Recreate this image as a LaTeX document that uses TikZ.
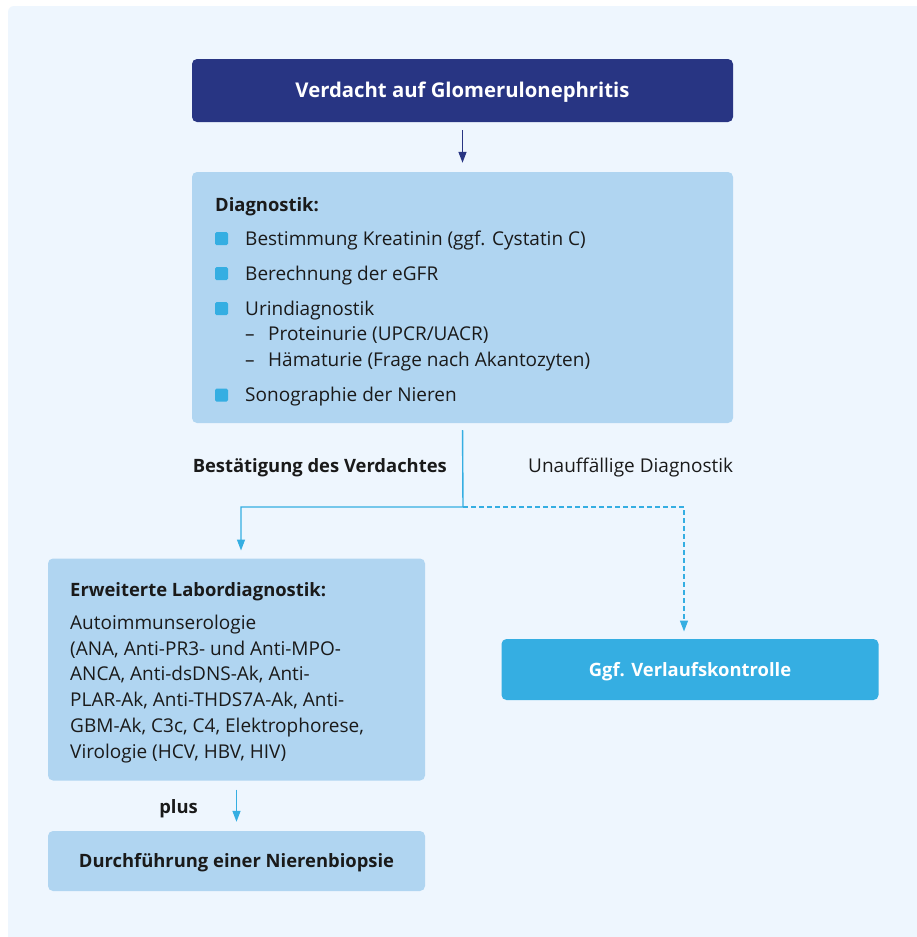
\documentclass[tikz,border=0pt]{standalone}
\usepackage{fontspec}
\setmainfont{Open Sans}
\usetikzlibrary{arrows.meta}
\definecolor{panel}{HTML}{EEF6FE}
\definecolor{navy}{HTML}{283583}
\definecolor{lightbox}{HTML}{B0D5F1}
\definecolor{cyanc}{HTML}{35AEE2}
\definecolor{txt}{HTML}{1A1A1A}
\newcommand{\regsize}{\fontsize{19}{25.7}\selectfont}
\newcommand{\boldsize}{\fontsize{18.4}{24}\selectfont\bfseries}
\newcommand{\topsize}{\fontsize{20.3}{24}\selectfont\bfseries}
\begin{document}
\begin{tikzpicture}[x=1pt,y=-1pt,
  font=\regsize,
  box/.style={rectangle, rounded corners=5pt, inner sep=0pt},
  capcenter/.style={text height=13.5pt, text depth=0pt},
  navybox/.style={box, capcenter, fill=navy, text=white, font=\topsize},
  lbox/.style={box, fill=lightbox, text=txt},
  cbox/.style={box, capcenter, fill=cyanc, text=white, font=\boldsize},
  line/.style={anchor=base west, inner sep=0pt, text=txt},
  bul/.style={rectangle, rounded corners=1.5pt, fill=cyanc, minimum width=13pt, minimum height=13pt, inner sep=0pt},
  conn/.style={draw=cyanc, line width=1.4pt},
  tip/.style={-{Triangle[width=8pt,length=11pt]}},
]
\useasboundingbox (0,0) rectangle (917,937);
\fill[white] (0,0) rectangle (917,937);
\fill[panel, rounded corners=6pt] (8,6) rectangle (930,950);

% top
\node[navybox, minimum width=541pt, minimum height=63pt] (top) at (462.5,90.5) {Verdacht auf Glomerulonephritis};

% diagnostik box
\node[lbox, minimum width=541pt, minimum height=251pt] (diag) at (462.5,297.5) {};
\node[line, font=\boldsize] (dh) at (215,211) {Diagnostik:};
\node[bul] (b1) at (221.5,238.5) {};
\node[line] (d1) at (245,245) {Bestimmung Kreatinin (ggf. Cystatin C)};
\node[bul] (b2) at (221.5,273.5) {};
\node[line] (d2) at (245,280) {Berechnung der eGFR};
\node[bul] (b3) at (221.5,308.5) {};
\node[line] (d3) at (245,315) {Urindiagnostik};
\node[line] (d3a) at (245,340.5) {–};
\node[line] (d3b) at (268,340.5) {Proteinurie (UPCR/UACR)};
\node[line] (d3c) at (245,366) {–};
\node[line] (d3d) at (268,366) {Hämaturie (Frage nach Akantozyten)};
\node[bul] (b4) at (221.5,395) {};
\node[line] (d4) at (245,401.5) {Sonographie der Nieren};

\draw[navy, line width=1.4pt, tip, shorten <=8pt, shorten >=9pt] (top.south) -- (diag.north);

% branch
\node[anchor=base east, inner sep=0pt, text=txt, font=\boldsize] (lb1) at (447,472.5) {Bestätigung des Verdachtes};
\node[anchor=base west, inner sep=0pt, text=txt] (lb2) at (528,472.5) {Unauffällige Diagnostik};

% left box
\node[lbox, minimum width=377pt, minimum height=222pt] (erw) at (236.5,669.5) {};
\node[line, font=\boldsize] (eh) at (70,596.5) {Erweiterte Labordiagnostik:};
\node[line] (e1) at (70,629.5) {Autoimmunserologie};
\node[line] (e2) at (70,655.2) {(ANA, Anti-PR3- und Anti-MPO-};
\node[line] (e3) at (70,680.9) {ANCA, Anti-dsDNS-Ak, Anti-};
\node[line] (e4) at (70,706.6) {PLAR-Ak, Anti-THDS7A-Ak, Anti-};
\node[line] (e5) at (70,732.3) {GBM-Ak, C3c, C4, Elektrophorese,};
\node[line] (e6) at (70,758) {Virologie (HCV, HBV, HIV)};

% right box
\node[cbox, minimum width=377pt, minimum height=61pt] (ggf) at (690,669.5) {Ggf. Verlaufskontrolle};

% biopsy
\node[lbox, capcenter, minimum width=377pt, minimum height=60pt, font=\boldsize] (dur) at (236.5,861) {Durchführung einer Nierenbiopsie};

\coordinate (j) at (463,507);
\coordinate (ea) at (241,558.5);
\coordinate (ga) at (684,639.5);
\draw[conn, tip, shorten <=7pt, shorten >=8pt] (diag.south) -- (j) -| (ea);
\draw[conn, dashed, dash pattern=on 5pt off 3pt, tip, shorten >=8pt] (j) -| (ga);
\draw[conn, tip, shorten <=9pt, shorten >=9pt] (erw.south) -- (dur.north);
\node[anchor=base east, inner sep=0pt, text=txt, font=\boldsize] (plus) at (198,813) {plus};
\end{tikzpicture}
\end{document}
